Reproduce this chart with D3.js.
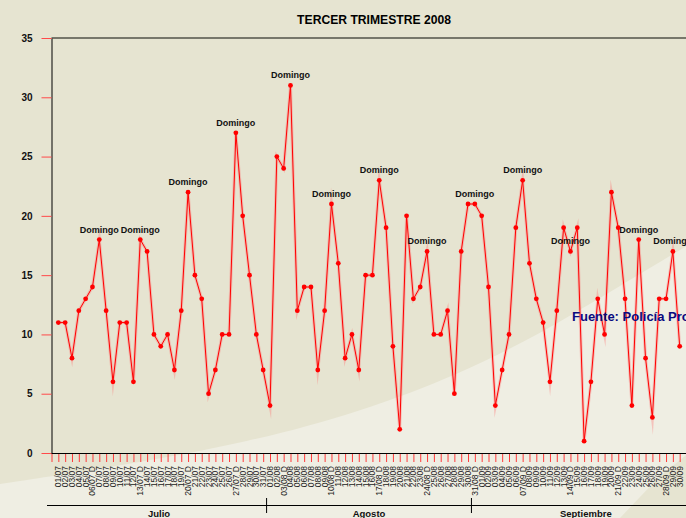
<!DOCTYPE html>
<html>
<head>
<meta charset="utf-8">
<script src="https://cdn.jsdelivr.net/npm/d3@7"></script>
<style>
body { margin: 0; background: #e6e4d1; overflow: hidden; }
svg { display: block; }
</style>
</head>
<body>
<svg id="chart"></svg>
<script>
var titulo = "TERCER TRIMESTRE 2008";
var fuente = "Fuente: Policía Provincial";

var fechas = [
    "01/07","02/07","03/07","04/07","05/07","06/07 D","07/07","08/07","09/07","10/07",
    "11/07","12/07","13/07 D","14/07","15/07","16/07","17/07","18/07","19/07","20/07 D",
    "21/07","22/07","23/07","24/07","25/07","26/07","27/07 D","28/07","29/07","30/07","31/07",
    "01/08","02/08","03/08 D","04/08","05/08","06/08","07/08","08/08","09/08","10/08 D",
    "11/08","12/08","13/08","14/08","15/08","16/08","17/08 D","18/08","19/08","20/08",
    "21/08","22/08","23/08","24/08 D","25/08","26/08","27/08","28/08","29/08","30/08","31/08 D",
    "01/09","02/09","03/09","04/09","05/09","06/09","07/09 D","08/09","09/09","10/09",
    "11/09","12/09","13/09","14/09 D","15/09","16/09","17/09","18/09","19/09","20/09",
    "21/09 D","22/09","23/09","24/09","25/09","26/09","27/09","28/09 D","29/09","30/09"
];

var delitos = [
    11,11,8,12,13,14,18,12,6,11,11,6,18,17,10,9,10,7,12,22,15,13,5,7,10,10,27,20,15,10,7,
    4,25,24,31,12,14,14,7,12,21,16,8,10,7,15,15,23,19,9,2,20,13,14,17,10,10,12,5,17,21,21,
    20,14,4,7,10,19,23,16,13,11,6,12,19,17,19,1,6,13,10,22,19,13,4,18,8,3,13,13,17,9
];

// puntos con la etiqueta "Domingo"
var domingos = [6, 12, 19, 26, 34, 40, 47, 54, 61, 68, 75, 85, 90];

var meses = ["Julio", "Agosto", "Septiembre"];
var inicioMes = [0, 31, 61];

var yTicks = [0, 5, 10, 15, 20, 25, 30, 35];

var svgWidth = 686;
var svgHeight = 518;

var svg = d3.select("#chart")
    .attr("width", svgWidth)
    .attr("height", svgHeight);

// fondo con la franja clara
svg.append("rect")
    .attr("width", svgWidth)
    .attr("height", svgHeight)
    .attr("fill", "#e6e4d1");

var curvaFranja = [[0,484],[120,466],[250,442],[360,412],[460,374],[540,334],[620,286],[700,238]];
svg.append("path")
    .attr("d", d3.line().curve(d3.curveBasis)(curvaFranja) + "L700,444L660,476L620,518L0,518Z")
    .attr("fill", "#efeee3");

var xScale = d3.scaleLinear()
    .domain([-1, delitos.length - 1])
    .range([51.5, 679.7]);

var yScale = d3.scaleLinear()
    .domain([0, 35])
    .range([453, 38]);

var fuenteTexto = "'Liberation Sans', Arial, sans-serif";

// borde superior
svg.append("line")
    .attr("x1", xScale(-1)).attr("x2", svgWidth)
    .attr("y1", yScale(35)).attr("y2", yScale(35))
    .attr("stroke", "#77776b")
    .attr("stroke-width", 2);

// eje Y
var yAxis = svg.append("g")
    .attr("class", "yAxis")
    .attr("transform", "translate(" + xScale(-1) + ",0)")
    .call(d3.axisLeft(yScale)
        .tickValues(yTicks)
        .tickSize(10)
        .tickSizeOuter(0)
        .tickPadding(9));
yAxis.select(".domain").attr("stroke", "#000");
yAxis.selectAll(".tick line").attr("stroke", "#ff4a4a");
yAxis.selectAll(".tick text")
    .attr("font-family", fuenteTexto)
    .attr("font-size", "10px")
    .attr("font-weight", "bold")
    .attr("fill", "#111");

// eje X
var xAxis = svg.append("g")
    .attr("class", "xAxis")
    .attr("transform", "translate(0," + yScale(0) + ")")
    .call(d3.axisBottom(xScale)
        .tickValues(d3.range(-1, delitos.length))
        .tickSize(9)
        .tickSizeOuter(0)
        .tickFormat(""));
xAxis.select(".domain").remove();
xAxis.selectAll(".tick line").attr("stroke", "#ff3a3a");

svg.append("line")
    .attr("x1", xScale(-1)).attr("x2", svgWidth)
    .attr("y1", yScale(0) + 0.5).attr("y2", yScale(0) + 0.5)
    .attr("stroke", "#000");

svg.append("g")
    .selectAll("text")
    .data(fechas)
    .enter()
    .append("text")
    .attr("transform", function(d, i){ return "translate(" + xScale(i) + ",466) rotate(-90)"; })
    .attr("dy", "0.35em")
    .attr("text-anchor", "end")
    .attr("font-family", fuenteTexto)
    .attr("font-size", "8.5px")
    .attr("fill", "#1a1a1a")
    .text(function(d){ return d; });

// meses
var mesY = 505.5;
svg.append("line")
    .attr("x1", 47).attr("x2", svgWidth)
    .attr("y1", mesY).attr("y2", mesY)
    .attr("stroke", "#000");

var bordes = inicioMes.map(function(d){ return d === 0 ? -1 : d - 0.5; });
bordes.push(delitos.length + 2);

svg.append("g")
    .selectAll("line")
    .data(bordes.slice(1, -1))
    .enter()
    .append("line")
    .attr("x1", function(d){ return xScale(d); })
    .attr("x2", function(d){ return xScale(d); })
    .attr("y1", 498).attr("y2", 513)
    .attr("stroke", "#000");

svg.append("g")
    .selectAll("text")
    .data(meses)
    .enter()
    .append("text")
    .attr("x", function(d, i){ return (xScale(bordes[i]) + xScale(bordes[i + 1])) / 2; })
    .attr("y", 516.5)
    .attr("text-anchor", "middle")
    .attr("font-family", fuenteTexto)
    .attr("font-size", "9.5px")
    .attr("font-weight", "bold")
    .attr("fill", "#111")
    .text(function(d){ return d; });

// serie
var linea = d3.line()
    .x(function(d, i){ return xScale(i); })
    .y(function(d){ return yScale(d); });

svg.append("path")
    .datum(delitos)
    .attr("fill", "none")
    .attr("stroke", "#ff7070")
    .attr("stroke-width", 3)
    .attr("stroke-opacity", 0.35)
    .attr("stroke-linejoin", "miter")
    .attr("stroke-miterlimit", 12)
    .attr("d", linea);

svg.append("path")
    .datum(delitos)
    .attr("fill", "none")
    .attr("stroke", "#ff0000")
    .attr("stroke-width", 1)
    .attr("d", linea);

svg.append("g")
    .selectAll("circle")
    .data(delitos)
    .enter()
    .append("circle")
    .attr("cx", function(d, i){ return xScale(i); })
    .attr("cy", function(d){ return yScale(d); })
    .attr("r", 2.4)
    .attr("fill", "#ff0000");

// etiquetas "Domingo"
svg.append("g")
    .selectAll("text")
    .data(domingos)
    .enter()
    .append("text")
    .attr("x", function(d){ return xScale(d); })
    .attr("y", function(d){ return yScale(delitos[d]) - 7; })
    .attr("text-anchor", "middle")
    .attr("font-family", fuenteTexto)
    .attr("font-size", "9px")
    .attr("font-weight", "bold")
    .attr("fill", "#111")
    .text("Domingo");

// titulo
svg.append("text")
    .attr("transform", "translate(374,24) scale(0.9,1)")
    .attr("text-anchor", "middle")
    .attr("font-family", fuenteTexto)
    .attr("font-size", "13.5px")
    .attr("font-weight", "bold")
    .attr("fill", "#000")
    .text(titulo);

// fuente
svg.append("text")
    .attr("x", 572)
    .attr("y", 321)
    .attr("font-family", fuenteTexto)
    .attr("font-size", "13px")
    .attr("font-weight", "bold")
    .attr("fill", "#0a0a80")
    .text(fuente);
</script>
</body>
</html>
